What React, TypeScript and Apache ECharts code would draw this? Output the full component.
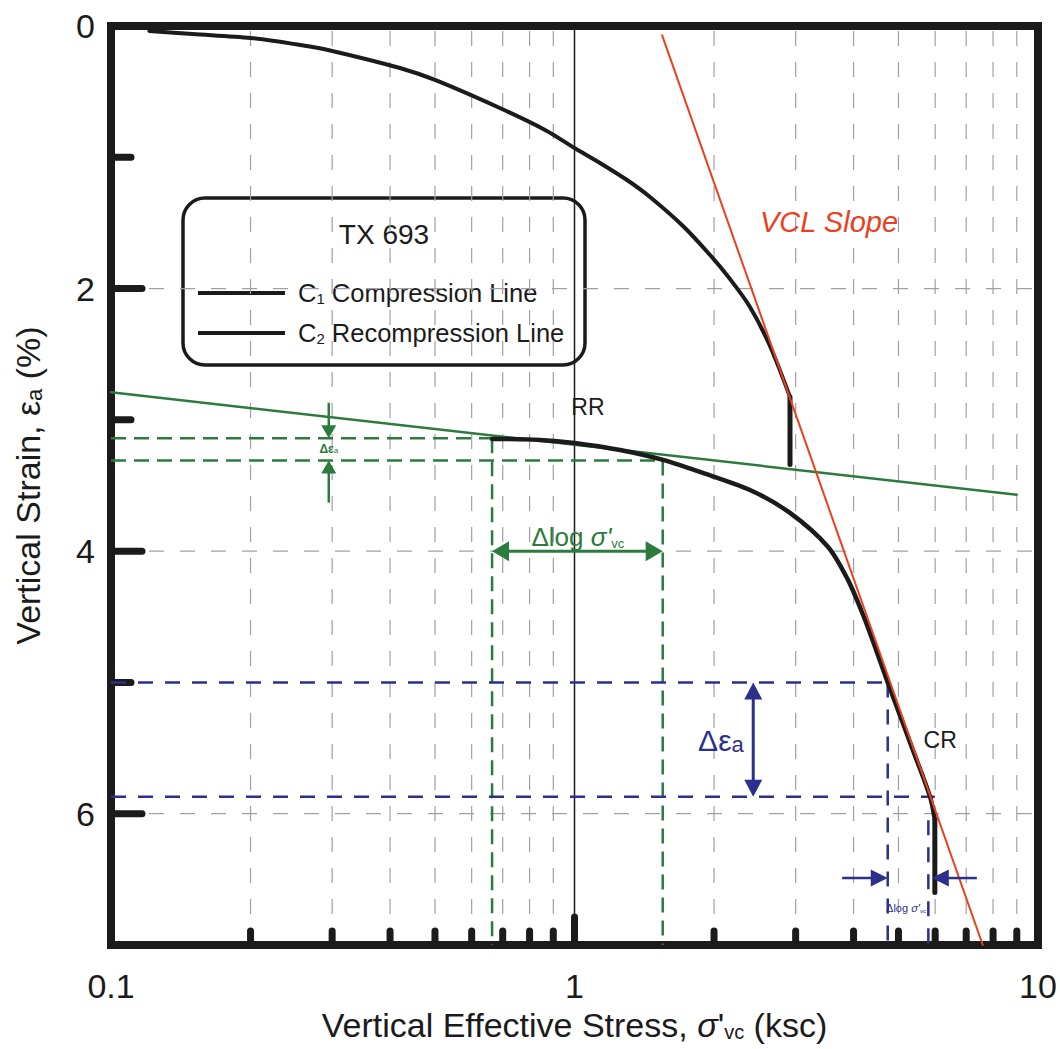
import { useEffect, useRef } from 'react';
import * as echarts from 'echarts';

const INK = '#1b1b1b';
const GREEN = '#2b7b3c';
const BLUE = '#2c2f8c';
const RED = '#ec3f1e';
const GRID_GRAY = '#a29ea6';
const FONT = '"Liberation Sans", Arial, Helvetica, sans-serif';

// ---- axes ----
const X_MIN = 0.1;
const X_MAX = 10;
const Y_MIN = 0;
const Y_MAX = 7;
const X_TICK_LABELS = [0.1, 1, 10];
const X_MINOR_TICKS = [0.2, 0.3, 0.4, 0.5, 0.6, 0.7, 0.8, 0.9, 2, 3, 4, 5, 6, 7, 8, 9];
const X_MAJOR_TICKS = [1];
const Y_LABELS = [0, 2, 4, 6];
const Y_MAJOR_TICKS = [2, 4, 6];
const Y_MINOR_TICKS = [1, 3, 5];

// ---- C1 compression line ----
const c1Stress = [0.121, 0.15, 0.2, 0.256, 0.3, 0.42, 0.5, 0.69, 0.864, 1.0, 1.135, 1.298, 1.455, 1.714, 1.961, 2.165, 2.391, 2.641, 2.917];
const c1Strain = [0.038, 0.061, 0.091, 0.145, 0.19, 0.32, 0.411, 0.625, 0.792, 0.929, 1.043, 1.173, 1.302, 1.523, 1.744, 1.927, 2.14, 2.437, 2.825];
const c1DropStress = [2.917, 2.917];
const c1DropStrain = [2.825, 3.34];

// ---- C2 recompression line ----
const c2Stress = [0.664, 0.843, 1.0, 1.254, 1.552, 1.866, 2.391, 2.917, 3.524, 3.89, 4.194, 4.474, 4.74, 5.37, 5.85, 5.99];
const c2Strain = [3.145, 3.153, 3.176, 3.23, 3.305, 3.397, 3.534, 3.709, 3.968, 4.219, 4.486, 4.752, 5.0, 5.514, 5.872, 6.047];
const c2DropStress = [5.99, 5.99];
const c2DropStrain = [6.047, 6.6];

// ---- RR (recompression slope) line, VCL slope line ----
const rrStress = [0.1, 9.0];
const rrStrain = [2.79, 3.57];
const vclStress = [1.545, 7.6];
const vclStrain = [0.07, 7.0];

// ---- guide lines (dashed) ----
const greenGuideStress = [[0.1, 0.664], [0.1, 1.55], [0.664, 0.664], [1.55, 1.55]];
const greenGuideStrain = [[3.14, 3.14], [3.31, 3.31], [3.14, 7], [3.31, 7]];
const blueGuideStress = [[0.1, 4.74], [0.1, 5.99], [4.74, 4.74], [5.8, 5.8]];
const blueGuideStrain = [[5.0, 5.0], [5.87, 5.87], [5.0, 7], [6.05, 7]];

// ---- arrows: [fromStress, fromStrain, toStress, toStrain, doubleHeaded] ----
const greenSmallArrows = [
  [0.295, 2.87, 0.295, 3.14, 0],
  [0.295, 3.63, 0.295, 3.31, 0],
];
const greenArrows = [[0.664, 4.0, 1.55, 4.0, 1]];
const blueArrows = [[2.43, 5.0, 2.43, 5.87, 1]];
const blueSmallArrows = [
  [3.78, 6.49, 4.74, 6.49, 0],
  [7.38, 6.49, 5.9, 6.49, 0],
];

// ---- annotation anchors (data coordinates) ----
const annotationKeys = ['rr', 'cr', 'vcl', 'gLog', 'gEps', 'bEps', 'bLog'];
const annotationStress = [1.069, 6.15, 3.54, 1.017, 0.295, 2.07, 5.19];
const annotationStrain = [2.9, 5.44, 1.49, 3.89, 3.22, 5.44, 6.72];

const tok = (size: number, color: string, lh: number, extra: any = {}) => ({
  fontSize: size,
  fontFamily: FONT,
  fill: color,
  color,
  lineHeight: lh,
  ...extra,
});
const sub = (size: number, color: string, lh: number) => tok(size, color, lh, { verticalAlign: 'bottom' });

const annotationStyles: Record<string, any> = {
  rr: { text: 'RR', fontSize: 23, fill: INK, fontFamily: FONT, fontWeight: 500 },
  cr: { text: 'CR', fontSize: 23, fill: INK, fontFamily: FONT, fontWeight: 500 },
  vcl: { text: 'VCL Slope', fontSize: 29, fill: RED, fontStyle: 'italic', fontFamily: FONT },
  gLog: {
    text: '{m|\u0394log }{i|\u03c3\'}{s|vc}',
    rich: {
      m: tok(26, GREEN, 26),
      i: tok(26, GREEN, 26, { fontStyle: 'italic' }),
      s: sub(13, GREEN, 10),
    },
  },
  gEps: {
    text: '{m|\u0394\u03b5}{s|a}',
    rich: {
      m: tok(12, GREEN, 12, { fontWeight: 'bold' }),
      s: sub(8, GREEN, 6),
    },
  },
  bEps: {
    text: '{m|\u0394\u03b5}{s|a}',
    rich: {
      m: tok(30, BLUE, 30),
      s: sub(22, BLUE, 14),
    },
  },
  bLog: {
    text: '{m|\u0394log }{i|\u03c3\'}{s|vc}',
    rich: {
      m: tok(11, BLUE, 11),
      i: tok(11, BLUE, 11, { fontStyle: 'italic' }),
      s: sub(6, BLUE, 5),
    },
  },
};

const zip = (xs: number[], ys: number[]) => xs.map((x, i) => [x, ys[i]]);

function vTickRenderer(len: number, width: number, withGrid: boolean) {
  return (_p: any, api: any) => {
    const v = api.value(0);
    const top = api.coord([v, Y_MIN]);
    const bot = api.coord([v, Y_MAX]);
    const children: any[] = [];
    if (withGrid) {
      children.push({
        type: 'line',
        shape: { x1: top[0], y1: top[1] + 5, x2: bot[0], y2: bot[1] },
        style: { stroke: GRID_GRAY, lineWidth: 1.2, lineDash: [15, 16] },
      });
    }
    children.push({
      type: 'line',
      shape: { x1: bot[0], y1: bot[1], x2: bot[0], y2: bot[1] - len },
      style: { stroke: INK, lineWidth: width, lineCap: 'round' },
    });
    return { type: 'group', children };
  };
}

function hTickRenderer(len: number, width: number, withGrid: boolean) {
  return (_p: any, api: any) => {
    const v = api.value(1);
    const left = api.coord([X_MIN, v]);
    const right = api.coord([X_MAX, v]);
    const children: any[] = [];
    if (withGrid) {
      children.push({
        type: 'line',
        shape: { x1: left[0] + 38, y1: left[1], x2: right[0], y2: right[1] },
        style: { stroke: GRID_GRAY, lineWidth: 1.2, lineDash: [15, 16] },
      });
    }
    children.push({
      type: 'line',
      shape: { x1: left[0], y1: left[1], x2: left[0] + len, y2: left[1] },
      style: { stroke: INK, lineWidth: width, lineCap: 'round' },
    });
    return { type: 'group', children };
  };
}

function arrowRenderer(color: string, width: number, headLen: number, headHalf: number) {
  return (_p: any, api: any) => {
    const p1 = api.coord([api.value(0), api.value(1)]);
    const p2 = api.coord([api.value(2), api.value(3)]);
    const both = api.value(4) === 1;
    const dx = p2[0] - p1[0];
    const dy = p2[1] - p1[1];
    const L = Math.hypot(dx, dy) || 1;
    const ux = dx / L;
    const uy = dy / L;
    const nx = -uy;
    const ny = ux;
    const head = (tip: number[], sx: number, sy: number) => ({
      type: 'polygon',
      shape: {
        points: [
          [tip[0], tip[1]],
          [tip[0] - sx * headLen + nx * headHalf, tip[1] - sy * headLen + ny * headHalf],
          [tip[0] - sx * headLen - nx * headHalf, tip[1] - sy * headLen - ny * headHalf],
        ],
      },
      style: { fill: color },
    });
    const start = both ? [p1[0] + ux * headLen * 0.8, p1[1] + uy * headLen * 0.8] : p1;
    const end = [p2[0] - ux * headLen * 0.8, p2[1] - uy * headLen * 0.8];
    const children: any[] = [
      {
        type: 'line',
        shape: { x1: start[0], y1: start[1], x2: end[0], y2: end[1] },
        style: { stroke: color, lineWidth: width },
      },
      head(p2, ux, uy),
    ];
    if (both) children.push(head(p1, -ux, -uy));
    return { type: 'group', children };
  };
}

function annotationRenderer(_p: any, api: any) {
  const pt = api.coord([api.value(0), api.value(1)]);
  const key = annotationKeys[api.value(2)];
  const st = annotationStyles[key];
  return {
    type: 'text',
    x: pt[0],
    y: pt[1],
    style: {
      ...st,
      align: 'center',
      verticalAlign: 'middle',
      textAlign: 'center',
      textVerticalAlign: 'middle',
    },
  };
}

function lineSeries(name: string, data: number[][], color: string, width: number, extra: any = {}) {
  return {
    type: 'line',
    name,
    data,
    showSymbol: false,
    symbol: 'none',
    silent: true,
    lineStyle: { color, width, cap: 'round', join: 'round', ...(extra.lineStyle || {}) },
    z: extra.z ?? 3,
    smooth: extra.smooth ?? false,
    clip: false,
  };
}

function buildOption() {
  const series: any[] = [];

  // gridlines & ticks
  series.push({
    type: 'custom', silent: true, z: 1, clip: false,
    data: X_MINOR_TICKS.map((v) => [v, Y_MAX]),
    renderItem: vTickRenderer(14, 7, true),
  });
  series.push({
    type: 'custom', silent: true, z: 6, clip: false,
    data: X_MAJOR_TICKS.map((v) => [v, Y_MAX]),
    renderItem: vTickRenderer(28, 7, false),
  });
  series.push({
    type: 'custom', silent: true, z: 1, clip: false,
    data: Y_MAJOR_TICKS.map((v) => [X_MIN, v]),
    renderItem: hTickRenderer(31, 7, true),
  });
  series.push({
    type: 'custom', silent: true, z: 1, clip: false,
    data: Y_MINOR_TICKS.map((v) => [X_MIN, v]),
    renderItem: hTickRenderer(20, 7, false),
  });

  // vertical reference line at 1
  series.push(lineSeries('ref1', [[1, Y_MIN], [1, Y_MAX]], INK, 1.5, { z: 2 }));

  // dashed guides
  greenGuideStress.forEach((xs, i) => {
    series.push(lineSeries('gGuide' + i, zip(xs, greenGuideStrain[i]), GREEN, 2.5, { z: 2, lineStyle: { type: [15, 8], cap: 'butt' } }));
  });
  blueGuideStress.forEach((xs, i) => {
    series.push(lineSeries('bGuide' + i, zip(xs, blueGuideStrain[i]), BLUE, 2.5, { z: 2, lineStyle: { type: [15, 12], cap: 'butt' } }));
  });

  // slope lines
  series.push(lineSeries('RR slope', zip(rrStress, rrStrain), GREEN, 2.5, { z: 3 }));
  series.push(lineSeries('VCL slope', zip(vclStress, vclStrain), RED, 2, { z: 5 }));

  // test curves
  series.push(lineSeries('C1 Compression Line', zip(c1Stress, c1Strain), INK, 4, { z: 4, smooth: 0.3 }));
  series.push(lineSeries('C1 drop', zip(c1DropStress, c1DropStrain), INK, 5, { z: 4 }));
  series.push(lineSeries('C2 Recompression Line', zip(c2Stress, c2Strain), INK, 4.5, { z: 4, smooth: 0.3 }));
  series.push(lineSeries('C2 drop', zip(c2DropStress, c2DropStrain), INK, 5, { z: 4 }));

  // arrows
  series.push({ type: 'custom', silent: true, z: 6, clip: false, data: greenSmallArrows, renderItem: arrowRenderer(GREEN, 2.5, 13, 7.5) });
  series.push({ type: 'custom', silent: true, z: 6, clip: false, data: greenArrows, renderItem: arrowRenderer(GREEN, 3, 17, 10) });
  series.push({ type: 'custom', silent: true, z: 6, clip: false, data: blueArrows, renderItem: arrowRenderer(BLUE, 3, 17, 9) });
  series.push({ type: 'custom', silent: true, z: 6, clip: false, data: blueSmallArrows, renderItem: arrowRenderer(BLUE, 2.5, 17, 8.5) });

  // annotations
  series.push({
    type: 'custom',
    silent: true,
    z: 7,
    clip: false,
    data: annotationKeys.map((_k, i) => [annotationStress[i], annotationStrain[i], i]),
    renderItem: annotationRenderer,
  });

  return {
    animation: false,
    backgroundColor: '#ffffff',
    grid: {
      left: 111,
      top: 26,
      width: 927,
      height: 919,
      show: true,
      borderColor: INK,
      borderWidth: 8,
      backgroundColor: 'transparent',
      containLabel: false,
    },
    xAxis: {
      type: 'log',
      logBase: 10,
      min: X_MIN,
      max: X_MAX,
      axisLine: { show: false },
      axisTick: { show: false },
      splitLine: { show: false },
      minorTick: { show: false },
      minorSplitLine: { show: false },
      axisLabel: {
        fontSize: 34,
        fontFamily: FONT,
        color: INK,
        margin: 24,
        formatter: (v: number) => {
          const m = X_TICK_LABELS.find((t) => Math.abs(Math.log10(t) - Math.log10(v)) < 1e-6);
          return m != null ? String(m) : '';
        },
      },
      name: '{t|Vertical Effective Stress, }{i|\u03c3}{t|\'}{s|vc}{t| (ksc)}',
      nameLocation: 'middle',
      nameGap: 62,
      nameTextStyle: {
        rich: {
          t: { fontSize: 34, fontFamily: FONT, color: INK, lineHeight: 34 },
          i: { fontSize: 34, fontFamily: FONT, color: INK, fontStyle: 'italic', lineHeight: 34 },
          s: { fontSize: 20, fontFamily: FONT, color: INK, verticalAlign: 'bottom', lineHeight: 12 },
        },
      },
    },
    yAxis: {
      type: 'value',
      inverse: true,
      min: Y_MIN,
      max: Y_MAX,
      interval: 1,
      axisLine: { show: false },
      axisTick: { show: false },
      splitLine: { show: false },
      axisLabel: {
        fontSize: 34,
        fontFamily: FONT,
        color: INK,
        margin: 16,
        formatter: (v: number) => (Y_LABELS.includes(v) ? String(v) : ''),
      },
      name: '{t|Vertical Strain, \u03b5}{s|a}{t| (%)}',
      nameLocation: 'middle',
      nameRotate: 90,
      nameGap: 66,
      nameTextStyle: {
        rich: {
          t: { fontSize: 34, fontFamily: FONT, color: INK, lineHeight: 34 },
          s: { fontSize: 22, fontFamily: FONT, color: INK, verticalAlign: 'bottom', lineHeight: 14 },
        },
      },
    },
    series,
    graphic: [
      {
        type: 'group',
        z: 100,
        children: [
          {
            type: 'rect',
            shape: { x: 183, y: 198, width: 402, height: 167, r: 22 },
            style: { fill: '#ffffff', stroke: INK, lineWidth: 3.5 },
          },
          {
            type: 'text',
            x: 384,
            y: 234,
            style: {
              text: 'TX 693',
              fontSize: 28,
              fontFamily: FONT,
              fill: INK,
              align: 'center',
              verticalAlign: 'middle',
              textAlign: 'center',
              textVerticalAlign: 'middle',
            },
          },
          { type: 'line', shape: { x1: 198, y1: 293, x2: 285, y2: 293 }, style: { stroke: INK, lineWidth: 4 } },
          { type: 'line', shape: { x1: 198, y1: 333, x2: 285, y2: 333 }, style: { stroke: INK, lineWidth: 4 } },
          {
            type: 'text',
            x: 298,
            y: 293,
            style: {
              text: '{m|C}{s|1}{m| Compression Line}',
              verticalAlign: 'middle',
              textVerticalAlign: 'middle',
              rich: {
                m: tok(25.5, INK, 26),
                s: sub(15, INK, 10),
              },
            },
          },
          {
            type: 'text',
            x: 298,
            y: 333,
            style: {
              text: '{m|C}{s|2}{m| Recompression Line}',
              verticalAlign: 'middle',
              textVerticalAlign: 'middle',
              rich: {
                m: tok(25.5, INK, 26),
                s: sub(15, INK, 10),
              },
            },
          },
        ],
      },
    ],
  };
}

export default function App() {
  const ref = useRef<HTMLDivElement>(null);
  useEffect(() => {
    if (!ref.current) return;
    const chart = echarts.init(ref.current, undefined, { renderer: 'svg' });
    chart.setOption(buildOption() as any);
    return () => chart.dispose();
  }, []);
  return (
    <div
      ref={ref}
      style={{ position: 'absolute', left: 0, top: 0, width: 1060, height: 1049, background: '#fff' }}
    />
  );
}
